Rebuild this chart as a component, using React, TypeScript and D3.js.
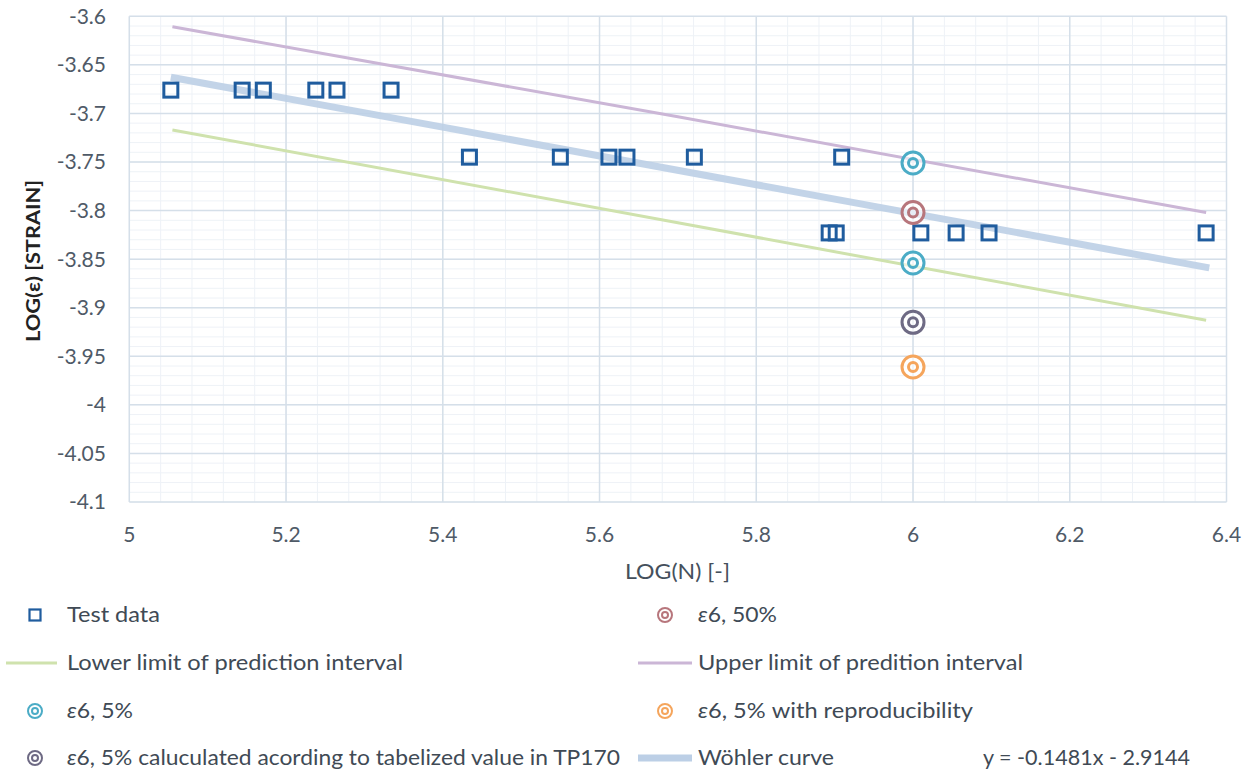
import React from "react";
import * as d3 from "d3";

// ---- data ----
const testX = [5.053, 5.144, 5.171, 5.238, 5.265, 5.334, 5.434, 5.55, 5.612, 5.635, 5.721, 5.909, 5.893, 5.902, 6.01, 6.055, 6.097, 6.374];
const testY = [-3.676, -3.676, -3.676, -3.676, -3.676, -3.676, -3.745, -3.745, -3.745, -3.745, -3.745, -3.745, -3.823, -3.823, -3.823, -3.823, -3.823, -3.823];

const wohlerX = [5.053, 6.378];
const wohlerY = [-3.6627, -3.859];
const upperX = [5.055, 5.7, 6.374];
const upperY = [-3.6107, -3.7035, -3.802];
const lowerX = [5.055, 5.7, 6.374];
const lowerY = [-3.717, -3.8125, -3.913];

const eps50 = { x: 6.0, y: -3.802 };
const eps5 = [{ x: 6.0, y: -3.751 }, { x: 6.0, y: -3.854 }];
const eps5Tab = { x: 6.0, y: -3.915 };
const eps5Rep = { x: 6.0, y: -3.961 };

const xTicks = [5, 5.2, 5.4, 5.6, 5.8, 6, 6.2, 6.4];
const yTicks = [-3.6, -3.65, -3.7, -3.75, -3.8, -3.85, -3.9, -3.95, -4, -4.05, -4.1];

const equation = "y = -0.1481x - 2.9144";

// ---- style ----
const C = {
  square: "#1f5c9e",
  wohler: "#bccfe6",
  upper: "#cbb6d6",
  lower: "#cfe2ad",
  cyan: "#4bacc6",
  red: "#b7767c",
  purple: "#6e6a84",
  orange: "#f5a55c",
  grid: "#d5dfe9",
  minor: "#eef2f7",
  text: "#4f5a67",
};
const FONT = "Lato, 'Open Sans', sans-serif";

const L = 129.3, R = 1226.5, T = 16.3, B = 502;

function Target({ cx, cy, color, r1 = 11, r2 = 4.5, sw = 3 }: any) {
  return (
    <g>
      <circle cx={cx} cy={cy} r={r1} fill="white" fillOpacity={0.6} stroke={color} strokeWidth={sw} />
      <circle cx={cx} cy={cy} r={r2} fill="none" stroke={color} strokeWidth={sw} />
    </g>
  );
}

export default function App() {
  const x = d3.scaleLinear().domain([5, 6.4]).range([L, R]);
  const y = d3.scaleLinear().domain([-3.6, -4.1]).range([T, B]);
  const line = (xs: number[], ys: number[]) =>
    d3.line<number>().x((d) => x(xs[d])).y((d) => y(ys[d]))(xs.map((_, i) => i)) || "";

  const minorX = d3.range(5, 6.4001, 0.04);
  const minorY = d3.range(-3.6, -4.1001, -0.01);

  const legRows = [615, 663, 711, 758];
  const lx = 35, ltx = 67, rx = 665, rtx = 698;
  const fs = 21;
  const LT = (props: any) => (
    <text dy="0.35em" lengthAdjust="spacingAndGlyphs" {...props} />
  );

  return (
    <svg width={1253} height={773} style={{ position: "absolute", left: 0, top: 0, background: "white" }} fontFamily={FONT}>
      {/* minor grid */}
      {minorX.map((v, i) => (
        <line key={"mx" + i} x1={x(v)} x2={x(v)} y1={T} y2={B} stroke={C.minor} strokeWidth={1} />
      ))}
      {minorY.map((v, i) => (
        <line key={"my" + i} x1={L} x2={R} y1={y(v)} y2={y(v)} stroke={C.minor} strokeWidth={1} />
      ))}
      {/* major grid */}
      {xTicks.map((v) => (
        <line key={"gx" + v} x1={x(v)} x2={x(v)} y1={T} y2={B} stroke={C.grid} strokeWidth={1.5} />
      ))}
      {yTicks.map((v) => (
        <line key={"gy" + v} x1={L} x2={R} y1={y(v)} y2={y(v)} stroke={C.grid} strokeWidth={1.5} />
      ))}

      {/* tick labels */}
      {yTicks.map((v) => (
        <text key={"ty" + v} x={106} y={y(v)} dy="0.35em" textAnchor="end" fontSize={21} fill={C.text}>
          {String(v)}
        </text>
      ))}
      {xTicks.map((v) => (
        <text key={"tx" + v} x={x(v)} y={535} dy="0.35em" textAnchor="middle" fontSize={21} fill={C.text}>
          {String(v)}
        </text>
      ))}

      {/* axis titles */}
      <text x={677.5} y={572} dy="0.35em" textAnchor="middle" fontSize={21} fill="#45505c" textLength={105} lengthAdjust="spacingAndGlyphs">LOG(N) [-]</text>
      <text transform={`translate(33,261) rotate(-90)`} dy="0.35em" textAnchor="middle" fontSize={19} fontWeight="bold" fill="#222" textLength={162} lengthAdjust="spacingAndGlyphs">
        LOG(ε) [STRAIN]
      </text>

      {/* lines */}
      <path d={line(upperX, upperY)} fill="none" stroke={C.upper} strokeWidth={3} />
      <path d={line(lowerX, lowerY)} fill="none" stroke={C.lower} strokeWidth={3} />
      <path d={line(wohlerX, wohlerY)} fill="none" stroke={C.wohler} strokeWidth={7} strokeOpacity={0.9} />

      {/* test data */}
      {testX.map((v, i) => (
        <rect key={"sq" + i} x={x(v) - 7} y={y(testY[i]) - 7} width={14} height={14} fill="none" stroke={C.square} strokeWidth={3} />
      ))}

      {/* epsilon points */}
      {eps5.map((p, i) => (
        <Target key={"e5" + i} cx={x(p.x)} cy={y(p.y)} color={C.cyan} />
      ))}
      <Target cx={x(eps50.x)} cy={y(eps50.y)} color={C.red} />
      <Target cx={x(eps5Tab.x)} cy={y(eps5Tab.y)} color={C.purple} />
      <Target cx={x(eps5Rep.x)} cy={y(eps5Rep.y)} color={C.orange} />

      {/* legend */}
      <g fontSize={fs} fill="#404a55">
        <rect x={lx - 5.5} y={legRows[0] - 5.5} width={11} height={11} fill="none" stroke={C.square} strokeWidth={2.2} />
        <LT x={ltx} y={legRows[0]} textLength={93}>Test data</LT>

        <line x1={6} x2={57} y1={legRows[1]} y2={legRows[1]} stroke={C.lower} strokeWidth={3} />
        <LT x={ltx} y={legRows[1]} textLength={336}>Lower limit of prediction interval</LT>

        <Target cx={lx} cy={legRows[2]} color={C.cyan} r1={7} r2={3} sw={2} />
        <LT x={ltx} y={legRows[2]} textLength={66}><tspan fontStyle="italic">ε</tspan>6, 5%</LT>

        <Target cx={lx} cy={legRows[3]} color={C.purple} r1={7} r2={3} sw={2} />
        <LT x={ltx} y={legRows[3]} textLength={553}><tspan fontStyle="italic">ε</tspan>6, 5% caluculated acording to tabelized value in TP170</LT>

        <Target cx={rx} cy={legRows[0]} color={C.red} r1={7} r2={3} sw={2} />
        <LT x={rtx} y={legRows[0]} textLength={79}><tspan fontStyle="italic">ε</tspan>6, 50%</LT>

        <line x1={638} x2={692} y1={legRows[1]} y2={legRows[1]} stroke={C.upper} strokeWidth={3} />
        <LT x={rtx} y={legRows[1]} textLength={325}>Upper limit of predition interval</LT>

        <Target cx={rx} cy={legRows[2]} color={C.orange} r1={7} r2={3} sw={2} />
        <LT x={rtx} y={legRows[2]} textLength={275}><tspan fontStyle="italic">ε</tspan>6, 5% with reproducibility</LT>

        <line x1={638} x2={692} y1={legRows[3]} y2={legRows[3]} stroke={C.wohler} strokeWidth={7} />
        <LT x={rtx} y={legRows[3]} textLength={136}>Wöhler curve</LT>

        <LT x={983} y={legRows[3]} textLength={207}>{equation}</LT>
      </g>
    </svg>
  );
}
